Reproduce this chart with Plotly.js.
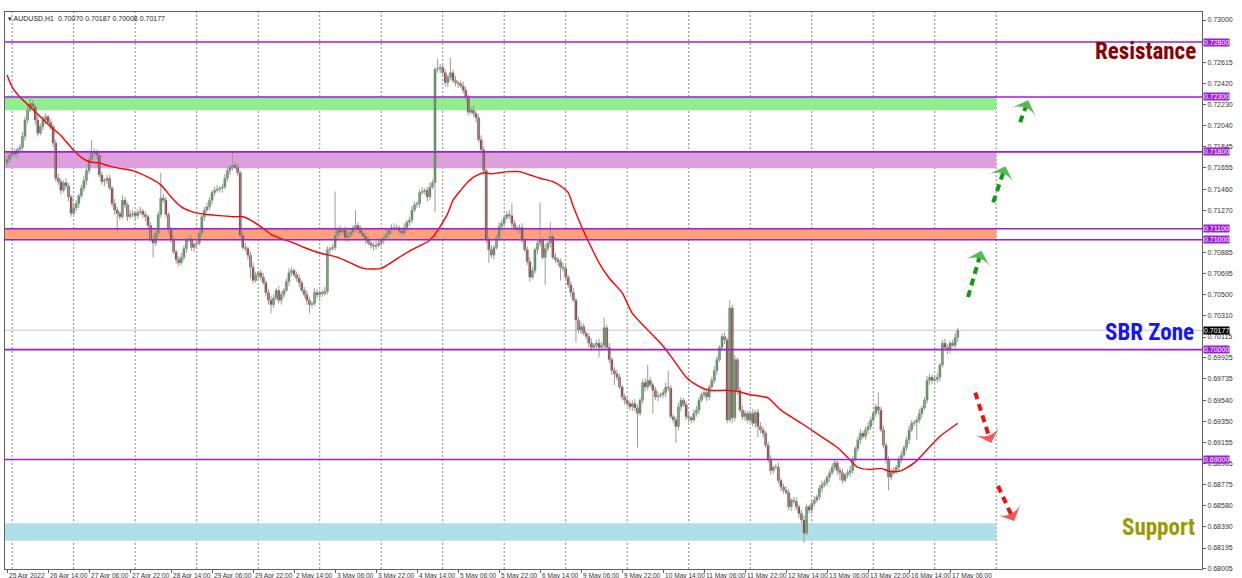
<!DOCTYPE html>
<html><head><meta charset="utf-8">
<script src="https://cdn.plot.ly/plotly-3.0.1.min.js"></script>
<style>html,body{margin:0;padding:0;background:#fff}#chart{width:1242px;height:578px}</style>
</head><body><div id="chart"></div>
<script>
// ---- data (hourly bars, index 0 = 25 Apr 2022 22:00) ----
const firstOpen = 0.7170;
const closes = [
0.7173,0.7177,0.7180,0.7178,0.7182,0.7184,0.7194,0.7209,0.7218,0.7224,
0.7221,0.7209,0.7197,0.7203,0.7209,0.7212,0.7207,0.7203,0.7188,0.7156,
0.7153,0.7145,0.7152,0.7149,0.7139,0.7124,0.7129,0.7133,0.7140,0.7147,
0.7154,0.7163,0.7173,0.7179,0.7180,0.7177,0.7159,0.7153,0.7154,0.7156,
0.7147,0.7133,0.7127,0.7124,0.7121,0.7136,0.7132,0.7121,0.7123,0.7124,
0.7122,0.7125,0.7126,0.7123,0.7121,0.7113,0.7100,0.7097,0.7106,0.7123,
0.7138,0.7136,0.7123,0.7109,0.7100,0.7089,0.7082,0.7079,0.7084,0.7092,
0.7100,0.7101,0.7093,0.7096,0.7097,0.7106,0.7121,0.7127,0.7130,0.7136,
0.7143,0.7145,0.7146,0.7147,0.7148,0.7156,0.7163,0.7166,0.7168,0.7166,
0.7161,0.7104,0.7093,0.7092,0.7086,0.7075,0.7063,0.7068,0.7070,0.7066,
0.7061,0.7052,0.7045,0.7041,0.7047,0.7054,0.7045,0.7050,0.7054,0.7062,
0.7070,0.7072,0.7068,0.7065,0.7061,0.7054,0.7050,0.7045,0.7041,0.7042,
0.7052,0.7050,0.7052,0.7051,0.7053,0.7091,0.7092,0.7093,0.7104,0.7109,
0.7107,0.7109,0.7102,0.7104,0.7107,0.7111,0.7113,0.7109,0.7106,0.7103,
0.7100,0.7097,0.7095,0.7094,0.7095,0.7097,0.7100,0.7102,0.7105,0.7109,
0.7111,0.7110,0.7111,0.7108,0.7106,0.7111,0.7116,0.7118,0.7127,0.7132,
0.7133,0.7143,0.7144,0.7145,0.7139,0.7148,0.7152,0.7255,0.7256,0.7257,
0.7252,0.7243,0.7248,0.7252,0.7245,0.7243,0.7242,0.7240,0.7236,0.7230,
0.7216,0.7218,0.7215,0.7211,0.7191,0.7182,0.7163,0.7100,0.7091,0.7086,
0.7093,0.7102,0.7112,0.7115,0.7120,0.7123,0.7122,0.7115,0.7111,0.7109,
0.7111,0.7100,0.7091,0.7080,0.7066,0.7072,0.7091,0.7097,0.7100,0.7084,
0.7092,0.7097,0.7103,0.7084,0.7082,0.7080,0.7075,0.7074,0.7066,0.7059,
0.7052,0.7045,0.7027,0.7018,0.7021,0.7015,0.7012,0.7006,0.7002,0.7004,
0.7006,0.7002,0.7004,0.7020,0.7002,0.6991,0.6981,0.6978,0.6975,0.6966,
0.6957,0.6954,0.6951,0.6948,0.6951,0.6947,0.6942,0.6954,0.6970,0.6966,
0.6972,0.6968,0.6963,0.6957,0.6958,0.6959,0.6961,0.6966,0.6965,0.6939,
0.6936,0.6930,0.6948,0.6954,0.6950,0.6939,0.6938,0.6936,0.6942,0.6945,
0.6954,0.6959,0.6961,0.6957,0.6966,0.6972,0.6981,0.6991,0.7002,0.7012,
0.7009,0.6936,0.7038,0.6938,0.6991,0.6963,0.6945,0.6939,0.6942,0.6936,
0.6942,0.6933,0.6943,0.6930,0.6927,0.6924,0.6913,0.6900,0.6890,0.6893,
0.6893,0.6881,0.6875,0.6872,0.6870,0.6857,0.6863,0.6862,0.6857,0.6851,
0.6845,0.6833,0.6857,0.6854,0.6860,0.6863,0.6866,0.6874,0.6877,0.6879,
0.6884,0.6888,0.6893,0.6897,0.6890,0.6888,0.6881,0.6886,0.6888,0.6890,
0.6900,0.6910,0.6918,0.6924,0.6921,0.6927,0.6930,0.6936,0.6942,0.6948,
0.6945,0.6927,0.6913,0.6900,0.6884,0.6888,0.6890,0.6893,0.6900,0.6904,
0.6911,0.6918,0.6927,0.6933,0.6934,0.6936,0.6942,0.6947,0.6954,0.6972,
0.6975,0.6972,0.6973,0.6975,0.6986,0.7006,0.7002,0.7000,0.7006,0.7004,
0.7011,0.70177];
// wick lengths beyond the body, in pips
const upWick = [
3,2,4,3,2,3,4,3,5,5,3,2,4,3,4,3,2,3,2,3,
4,3,2,4,3,2,4,3,2,3,4,2,3,12,3,2,4,3,2,3,
3,2,4,3,2,5,3,2,4,3,2,3,4,2,3,2,3,4,3,3,
23,4,3,2,3,4,2,3,4,3,2,4,3,2,3,4,2,3,4,3,
2,3,4,2,3,4,3,2,12,3,4,2,3,4,2,3,4,3,2,3,
4,2,3,4,3,2,4,3,2,3,4,3,2,3,4,2,3,4,3,2,
4,3,2,3,4,3,2,3,40,3,4,2,3,4,3,2,14,3,4,2,
3,4,2,3,4,3,2,3,4,2,3,4,3,2,3,4,2,3,4,3,
2,3,4,2,3,4,3,2,9,3,4,3,2,14,3,4,2,3,4,3,
2,3,4,2,3,4,3,2,3,4,2,3,4,3,2,3,4,11,3,2,
3,4,2,3,4,3,2,3,34,3,4,2,13,3,4,2,3,4,3,2,
3,4,2,3,4,3,2,3,4,2,3,4,3,9,3,4,2,3,4,3,
2,3,4,2,3,4,3,2,3,4,14,3,2,3,4,2,3,4,15,3,
2,3,4,3,2,3,4,2,3,4,3,2,3,4,2,3,4,3,2,3,
4,2,7,3,4,2,3,4,3,2,3,4,2,3,4,3,2,3,4,2,
3,4,2,3,4,3,2,3,4,2,3,4,3,2,3,4,2,3,4,3,
2,3,4,3,2,3,4,2,3,4,3,2,3,4,2,3,4,3,2,3,
13,3,4,2,3,4,3,2,3,4,2,3,4,3,2,3,4,2,3,4,
3,2,3,4,2,3,4,3,2,3,4,2];
const downWick = [
4,3,2,3,4,2,3,4,3,2,3,4,3,2,3,4,2,3,4,3,
3,4,2,3,4,3,2,3,4,2,3,4,3,2,3,4,2,3,4,3,
2,3,4,18,3,2,3,4,2,3,4,3,2,3,4,3,2,13,3,4,
3,2,3,4,3,2,4,3,2,3,4,2,3,4,3,2,3,4,2,3,
4,3,2,3,4,2,3,4,3,2,3,4,2,3,4,10,3,2,4,3,
2,3,4,8,3,2,3,4,3,2,4,3,2,3,4,2,3,4,8,3,
2,3,4,3,2,3,4,2,3,4,3,2,3,4,2,3,4,3,2,3,
4,2,3,4,3,2,3,4,2,3,4,3,2,3,4,2,3,4,3,2,
3,4,2,3,4,3,2,27,3,4,2,3,4,3,2,3,4,2,3,4,
3,2,3,4,2,3,4,3,12,3,4,2,3,4,3,2,3,4,2,3,
4,3,2,3,4,2,3,4,3,2,25,3,4,2,3,4,12,3,2,3,
4,2,20,3,4,2,3,4,3,2,3,9,3,4,2,3,4,10,3,2,
3,4,2,3,4,3,31,2,3,4,3,2,21,3,4,2,3,4,3,2,
3,15,3,4,2,3,4,3,2,3,4,2,3,4,3,2,3,4,2,3,
4,3,2,5,3,4,2,3,4,3,2,3,4,10,3,4,2,3,4,3,
2,3,4,3,2,3,4,2,3,4,3,9,2,3,4,3,2,3,4,2,
3,4,2,3,4,7,3,2,3,4,3,2,3,4,2,3,4,3,2,3,
4,2,3,4,12,3,2,3,4,3,2,3,4,2,3,16,3,4,2,3,
4,3,2,3,4,2,3,4,3,2,3,4];
// moving average (bar index, value)
const maBars = [0,2,5,9,13,17,21,25,29,32,36,40,44,49,55,60,64,68,73,78,83,88,92,95,99,103,107,112,116,122,129,134,139,146,153,158,164,166,169,172,174,177,180,182,186,189,192,196,200,204,208,213,216,219,221,224,228,231,235,240,244,250,255,260,265,269,274,281,285,290,297,302,310,317,324,328,332,337,341,345,349,354,359,364,371];
const maValues = [0.7250,0.7239,0.7230,0.7221,0.7212,0.7203,0.7195,0.7184,0.7175,0.7171,0.7170,0.7167,0.7165,0.7163,0.7157,0.7150,0.7139,0.7130,0.7125,0.7123,0.7122,0.7121,0.7121,0.7118,0.7112,0.7105,0.7101,0.7097,0.7093,0.7088,0.7084,0.7079,0.7074,0.7074,0.7084,0.7091,0.7098,0.7102,0.7112,0.7124,0.7136,0.7145,0.7153,0.7157,0.7161,0.7160,0.7161,0.7162,0.7162,0.7159,0.7156,0.7153,0.7149,0.7143,0.7130,0.7113,0.7093,0.7079,0.7065,0.7052,0.7033,0.7018,0.7006,0.6991,0.6975,0.6968,0.6963,0.6963,0.6962,0.6959,0.6956,0.6945,0.6933,0.6922,0.6911,0.6902,0.6893,0.6891,0.6892,0.6889,0.6890,0.6897,0.6909,0.6921,0.6933];
// time axis labels
const xLabelBars = [0,16,32,48,64,80,96,112,128,144,160,176,192,208,224,240,256,272,288,304,320,336,352,368];
const xLabels = ["25 Apr 2022","26 Apr 14:00","27 Apr 06:00","27 Apr 22:00","28 Apr 14:00","29 Apr 06:00","29 Apr 22:00","2 May 14:00","3 May 06:00","3 May 22:00","4 May 14:00","5 May 06:00","5 May 22:00","6 May 14:00","9 May 06:00","9 May 22:00","10 May 14:00","11 May 06:00","11 May 22:00","12 May 14:00","13 May 06:00","13 May 22:00","16 May 14:00","17 May 06:00"];
const dayStartBars = [2,26,50,74,98,122,146,170,194,218,242,266,290,314,338,362,386];
const yTickValues = [0.73000,0.72615,0.72420,0.72230,0.72040,0.71845,0.71655,0.71460,0.71270,0.70885,0.70695,0.70500,0.70310,0.70115,0.69925,0.69735,0.69540,0.69350,0.69155,0.68965,0.68775,0.68580,0.68390,0.68195,0.68005];
// horizontal levels and zones
const levelLines = [0.72800,0.72300,0.71800,0.71100,0.71000,0.70000,0.69000];
const zoneLow  = [0.7218,0.7165,0.7100,0.6826];
const zoneHigh = [0.7230,0.7180,0.7110,0.6842];
const zoneEndBar = 386;
const lastPrice = 0.70177;
// dashed scenario arrows: [fromBar, fromPrice, toBar, toPrice]
const upArrows = [[375,0.7048,380.2,0.7090],[384.8,0.7134,389.6,0.7167],[395.3,0.7207,398.5,0.7227]];
const downArrows = [[377.8,0.6961,384.0,0.6915],[386.7,0.6876,393.0,0.6844]];

// ---- build traces ----
const n = closes.length;
const opens = closes.map((c,i)=> i===0 ? firstOpen : closes[i-1]);
const idx = closes.map((c,i)=>i);
const wx=[], wy=[];
const bodyBase=[], bodyLen=[], bodyCol=[];
for (let i=0;i<n;i++){
  const o=opens[i], c=closes[i];
  const top=Math.max(o,c), bot=Math.min(o,c);
  const hi=top+(upWick[i]||2)*0.0001, lo=bot-(downWick[i]||2)*0.0001;
  wx.push(i,i,null); wy.push(lo,hi,null);
  bodyBase.push(bot); bodyLen.push(Math.max(top-bot,0.00003));
  bodyCol.push(c>=o ? '#228B22' : '#800000');
}
const traces = [];
traces.push({type:'scatter',mode:'lines',x:wx,y:wy,line:{color:'#9a9a9a',width:1},hoverinfo:'skip',showlegend:false});
traces.push({type:'bar',x:idx,y:bodyLen,base:bodyBase,width:0.85,marker:{color:bodyCol,line:{width:0.4,color:'#8c8c8c'}},hoverinfo:'skip',showlegend:false});
traces.push({type:'scatter',mode:'lines',x:maBars,y:maValues,line:{color:'#ff0000',width:1.4,shape:'spline',smoothing:0.6},hoverinfo:'skip',showlegend:false});
function arrowTrace(a,col){
  return {type:'scatter',mode:'lines+markers',x:[a[0],a[2]],y:[a[1],a[3]],
    line:{color:col,width:4,dash:'7px,5px'},
    marker:{symbol:'arrow-wide',angleref:'previous',size:[0,19],color:col,line:{width:0}},
    hoverinfo:'skip',showlegend:false,cliponaxis:false};
}
upArrows.forEach(a=>traces.push(arrowTrace(a,'#0f9a0f')));
downArrows.forEach(a=>traces.push(arrowTrace(a,'#f01010')));

// ---- shapes ----
const shapes=[];
const zoneColors=['#90EE90','#DDA0DD','#FFA07A','#B0E0E6'];
zoneLow.forEach((lo,k)=>shapes.push({type:'rect',xref:'x',yref:'y',x0:-0.8,x1:zoneEndBar,y0:lo,y1:zoneHigh[k],fillcolor:zoneColors[k],line:{width:0},layer:'below'}));
dayStartBars.forEach(b=>shapes.push({type:'line',xref:'x',yref:'paper',x0:b,x1:b,y0:0,y1:1,line:{color:'#8a8a8a',width:1,dash:'2px,2px'},layer:'below'}));
shapes.push({type:'line',xref:'paper',yref:'y',x0:0,x1:1,y0:lastPrice,y1:lastPrice,line:{color:'#c8c8c8',width:1},layer:'below'});
levelLines.forEach(v=>shapes.push({type:'line',xref:'paper',yref:'y',x0:0,x1:1,y0:v,y1:v,line:{color:'#9b1fd6',width:1.6},layer:'above'}));

// ---- annotations ----
const ann=[];
const smallFont={family:'Liberation Sans, Arial, sans-serif',size:7,color:'#333'};
const axisLabelFont={family:'Liberation Sans, Arial, sans-serif',size:6.6,color:'#333'};
xLabelBars.forEach((b,k)=>ann.push({x:b,xref:'x',y:0,yref:'paper',xanchor:'left',yanchor:'top',yshift:-1,text:xLabels[k],showarrow:false,font:axisLabelFont}));
levelLines.forEach(v=>ann.push({x:1,xref:'paper',y:v,yref:'y',xanchor:'left',yanchor:'middle',xshift:1,text:v.toFixed(5),showarrow:false,bgcolor:'#9b1fd6',borderpad:0,font:{family:'Liberation Sans, Arial, sans-serif',size:7,color:'#fff'}}));
ann.push({x:1,xref:'paper',y:lastPrice,yref:'y',xanchor:'left',yanchor:'middle',xshift:1,text:lastPrice.toFixed(5),showarrow:false,bgcolor:'#000',borderpad:0,font:{family:'Liberation Sans, Arial, sans-serif',size:7,color:'#fff'}});
ann.push({x:0,xref:'paper',y:1,yref:'paper',xanchor:'left',yanchor:'top',xshift:1,yshift:-1,text:'▾ AUDUSD,H1  0.70070 0.70187 0.70008 0.70177',showarrow:false,font:{family:'Liberation Sans, Arial, sans-serif',size:7,color:'#222'}});
const bigFont=(c)=>({family:'Liberation Sans Narrow, Roboto Condensed, Arial Narrow, Liberation Sans, Arial, sans-serif',size:23,color:c,weight:'bold'});
ann.push({x:1,xref:'paper',y:0.7271,yref:'y',xanchor:'right',yanchor:'middle',xshift:-4,text:'Resistance',showarrow:false,font:bigFont('#8B0000')});
ann.push({x:1,xref:'paper',y:0.7016,yref:'y',xanchor:'right',yanchor:'middle',xshift:-6,text:'SBR Zone',showarrow:false,font:bigFont('#1414ff')});
ann.push({x:1,xref:'paper',y:0.6838,yref:'y',xanchor:'right',yanchor:'middle',xshift:-5,text:'Support',showarrow:false,font:bigFont('#9a9a00')});

const layout={
  width:1242,height:578,margin:{l:5,r:40,t:12,b:9},
  paper_bgcolor:'#fff',plot_bgcolor:'#fff',showlegend:false,barmode:'overlay',
  xaxis:{range:[-0.8,466.3],showgrid:false,zeroline:false,showline:true,mirror:true,linecolor:'#606060',linewidth:1,
    tickmode:'array',tickvals:xLabelBars,ticks:'outside',ticklen:3,tickcolor:'#606060',showticklabels:false,fixedrange:true},
  yaxis:{range:[0.68004,0.73073],side:'right',showgrid:false,zeroline:false,showline:true,mirror:true,linecolor:'#606060',linewidth:1,
    tickmode:'array',tickvals:yTickValues,ticktext:yTickValues.map(v=>v.toFixed(5)),ticks:'outside',ticklen:3,tickcolor:'#606060',
    tickfont:smallFont,fixedrange:true},
  shapes:shapes,annotations:ann
};
Plotly.newPlot('chart',traces,layout,{staticPlot:true,displayModeBar:false});
</script></body></html>
